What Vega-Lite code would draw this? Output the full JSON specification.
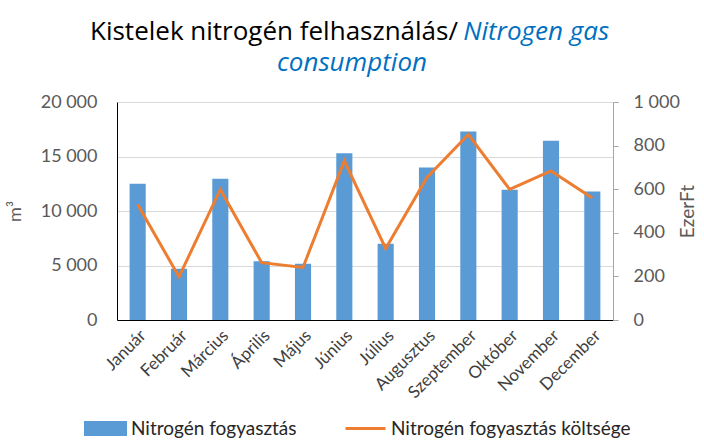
{
  "$schema": "https://vega.github.io/schema/vega-lite/v6.json",
  "width": 496,
  "height": 218,
  "autosize": {"type": "none"},
  "padding": {"left": 117, "top": 102, "right": 91, "bottom": 121},
  "background": "white",
  "config": {
    "font": "Lato",
    "view": {"stroke": null},
    "axis": {"labelFont": "Lato", "titleFont": "Lato", "labelColor": "#595959", "titleColor": "#595959", "titleFontWeight": "normal"}
  },
  "title": {
    "text": "Kistelek nitrogén felhasználás/\u2003\u2003\u2003\u2003\u2003\u2003\u200B",
    "subtitle": ["\u200B\u2003\u2003\u2003\u2003\u2003\u2003\u2003\u2003\u2003\u2003\u2003\u2003\u2003\u2003\u2009Nitrogen gas", "consumption"],
    "anchor": "middle",
    "frame": "group",
    "dx": -13,
    "offset": 17,
    "font": "Open Sans",
    "fontSize": 26,
    "fontWeight": "normal",
    "color": "#000000",
    "subtitleFont": "Open Sans",
    "subtitleFontSize": 26,
    "subtitleFontStyle": "italic",
    "subtitleColor": "#0070C0",
    "subtitleLineHeight": 31,
    "subtitlePadding": -26
  },
  "data": {
    "values": [
      {"month": "Január", "m3": 12500, "cost": 530},
      {"month": "Február", "m3": 4700, "cost": 198},
      {"month": "Március", "m3": 12950, "cost": 599},
      {"month": "Április", "m3": 5400, "cost": 263},
      {"month": "Május", "m3": 5150, "cost": 241},
      {"month": "Június", "m3": 15300, "cost": 730},
      {"month": "Július", "m3": 7000, "cost": 328},
      {"month": "Augusztus", "m3": 14000, "cost": 654},
      {"month": "Szeptember", "m3": 17300, "cost": 851},
      {"month": "Október", "m3": 11950, "cost": 599},
      {"month": "November", "m3": 16450, "cost": 684},
      {"month": "December", "m3": 11800, "cost": 560}
    ]
  },
  "encoding": {
    "x": {
      "field": "month",
      "type": "nominal",
      "sort": null,
      "scale": {"paddingInner": 0.61, "paddingOuter": 0.305},
      "axis": {
        "title": null,
        "labelAngle": -45,
        "labelFontSize": 17,
        "labelColor": "#404040",
        "labelPadding": 7,
        "labelDx": 4,
        "ticks": false,
        "domainColor": "#000000",
        "grid": false
      }
    }
  },
  "layer": [
    {
      "mark": {"type": "bar"},
      "encoding": {
        "y": {
          "field": "m3",
          "type": "quantitative",
          "scale": {"domain": [0, 20000]},
          "axis": {
            "title": "m³",
            "titleFontSize": 18,
            "values": [0, 5000, 10000, 15000, 20000],
            "labelExpr": "replace(format(datum.value, ','), ',', ' ')",
            "labelFontSize": 18,
            "labelPadding": 20,
            "ticks": false,
            "domainColor": "#000000",
            "gridColor": "#d9d9d9",
            "titlePadding": 16
          }
        },
        "color": {
          "datum": "Nitrogén fogyasztás",
          "scale": {"domain": ["Nitrogén fogyasztás", "Nitrogén fogyasztás költsége"], "range": ["#5B9BD5", "#ED7D31"]},
          "legend": {
            "title": null,
            "orient": "none",
            "legendX": -33,
            "legendY": 305,
            "direction": "horizontal",
            "gridAlign": "none",
            "labelFontSize": 19,
            "labelColor": "#262626",
            "labelFont": "Lato",
            "labelLimit": 400,
            "symbolSize": 1600,
            "labelOffset": 4,
            "columnPadding": 42,
            "encode": {
              "symbols": {
                "update": {
                  "shape": {"signal": "datum.value === 'Nitrogén fogyasztás' ? 'M-1,-0.3H1V0.3H-1Z' : 'M-1,0H1'"},
                  "fill": {"signal": "datum.value === 'Nitrogén fogyasztás' ? '#5B9BD5' : 'transparent'"},
                  "stroke": {"signal": "datum.value === 'Nitrogén fogyasztás' ? 'transparent' : '#ED7D31'"},
                  "strokeWidth": {"value": 3},
                  "opacity": {"value": 1}
                }
              }
            }
          }
        }
      }
    },
    {
      "mark": {"type": "line", "strokeWidth": 3},
      "encoding": {
        "y": {
          "field": "cost",
          "type": "quantitative",
          "scale": {"domain": [0, 1000]},
          "axis": {
            "orient": "right",
            "title": "EzerFt",
            "titleAngle": 270,
            "titleFontSize": 19,
            "values": [0, 200, 400, 600, 800, 1000],
            "labelExpr": "replace(format(datum.value, ','), ',', ' ')",
            "labelFontSize": 18,
            "labelPadding": 15,
            "tickSize": 5,
            "tickColor": "#a6a6a6",
            "domainColor": "#a6a6a6",
            "grid": false,
            "titlePadding": 18
          }
        },
        "color": {"datum": "Nitrogén fogyasztás költsége"}
      }
    }
  ],
  "resolve": {"scale": {"y": "independent"}}
}
